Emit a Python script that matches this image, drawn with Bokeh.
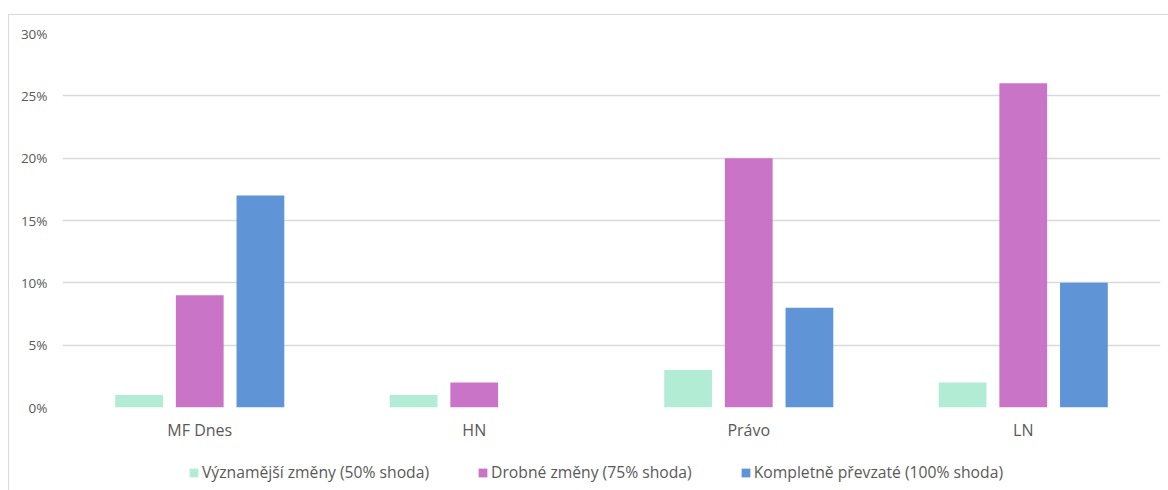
from bokeh.plotting import figure
from bokeh.layouts import column
from bokeh.models import ColumnDataSource, FactorRange, Range1d, NumeralTickFormatter, Legend, LegendItem, FixedTicker
from bokeh.transform import dodge
from bokeh.embed import file_html
from bokeh.resources import INLINE

categories = ["MF Dnes", "HN", "Právo", "LN"]
series_names = ["Významější změny (50% shoda)", "Drobné změny (75% shoda)", "Kompletně převzaté (100% shoda)"]
vyznamejsi = [0.01, 0.01, 0.03, 0.02]
drobne = [0.09, 0.02, 0.20, 0.26]
kompletne = [0.17, 0.00, 0.08, 0.10]
y_ticks = [0, 0.05, 0.10, 0.15, 0.20, 0.25, 0.30]
colors = ["#b3ecd5", "#c974c6", "#5f95d6"]

src = ColumnDataSource(dict(cat=categories, a=vyznamejsi, b=drobne, c=kompletne))
keys = ["a", "b", "c"]
offsets = [-0.221, 0.0, 0.221]

FONT = "Open Sans"
TXT = "#595959"
xr = FactorRange(*categories, range_padding=0)
p = figure(x_range=xr, y_range=Range1d(0, 0.30),
           width=1159, height=435, output_backend="svg", toolbar_location=None,
           min_border_left=53, min_border_right=8, min_border_top=18, min_border_bottom=43)
p.outline_line_color = None

for key, off, col in zip(keys, offsets, colors):
    p.vbar(x=dodge("cat", off, range=xr), top=key, width=0.174, source=src,
           fill_color=col, line_color=None)

p.yaxis.ticker = FixedTicker(ticks=y_ticks)
p.yaxis.formatter = NumeralTickFormatter(format="0%")
p.yaxis.axis_line_color = None
p.yaxis.major_tick_line_color = None
p.yaxis.minor_tick_line_color = None
p.yaxis.major_tick_out = 0
p.yaxis.major_tick_in = 0
p.yaxis.major_label_text_font = FONT
p.yaxis.major_label_text_font_size = "13.5px"
p.yaxis.major_label_text_color = TXT
p.yaxis.major_label_standoff = 15

p.xaxis.axis_line_color = None
p.xaxis.major_tick_line_color = None
p.xaxis.minor_tick_line_color = None
p.xaxis.major_tick_out = 0
p.xaxis.major_tick_in = 0
p.xaxis.major_label_text_font = FONT
p.xaxis.major_label_text_font_size = "16px"
p.xaxis.major_label_text_color = TXT
p.xaxis.major_label_standoff = 11

p.xgrid.grid_line_color = None
p.ygrid.grid_line_color = "#d9d9d9"
p.ygrid.grid_line_width = 1.5

# legend strip: same bars, drawn into a y-range where they fall out of view
lf = figure(width=1159, height=40, output_backend="svg", toolbar_location=None,
            x_range=xr, y_range=Range1d(1, 2), x_axis_type=None, y_axis_type=None,
            min_border_left=0, min_border_right=0, min_border_top=0, min_border_bottom=0)
lf.outline_line_color = None
lf.xgrid.grid_line_color = None
lf.ygrid.grid_line_color = None
leg_renderers = [lf.vbar(x=dodge("cat", off, range=xr), top=key, width=0.174, source=src,
                         fill_color=col, line_color=None)
                 for key, off, col in zip(keys, offsets, colors)]

legend = Legend(items=[LegendItem(label=n, renderers=[r]) for n, r in zip(series_names, leg_renderers)],
                orientation="horizontal", location=(126, 7))
legend.label_text_font = FONT
legend.label_text_font_size = "15.7px"
legend.label_text_color = TXT
legend.glyph_width = 11
legend.glyph_height = 11
legend.spacing = 48
legend.label_standoff = 3
legend.border_line_color = None
legend.background_fill_alpha = 0
legend.padding = 0
legend.margin = 0
lf.add_layout(legend, "center")

layout = column(p, lf, spacing=0, margin=(14, 0, 0, 8),
                styles={"border-left": "1px solid #d9d9d9", "border-top": "1px solid #d9d9d9"})

open("out.html", "w").write(file_html(layout, INLINE))
